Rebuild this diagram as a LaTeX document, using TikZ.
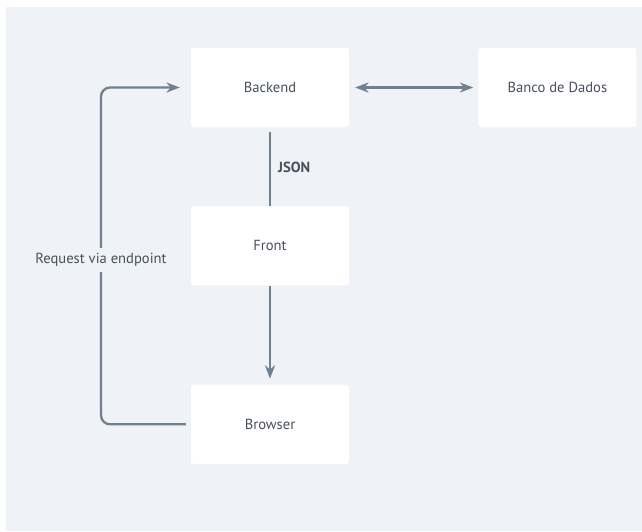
\documentclass[tikz,border=0pt]{standalone}
\usepackage{fontspec}
\setmainfont{PT Sans}
\usepackage{tikz}
\usetikzlibrary{arrows.meta,positioning,calc}
\usepackage{xcolor}
\tikzset{>=Stealth}
\definecolor{bgcolor}{RGB}{239,242,246}
\definecolor{linecolor}{RGB}{112,128,143}
\definecolor{textcolor}{RGB}{72,80,92}

\begin{document}
\begin{tikzpicture}[x=1pt,y=-1pt,
  every node/.style={font=\fontsize{14.6}{16}\selectfont,text=textcolor},
  box/.style={fill=white,rounded corners=2.5pt,minimum width=158pt,minimum height=79pt,inner sep=0pt},
  link/.style={draw=linecolor,line width=2.3pt,
    arrows={-Stealth[length=7pt,width=8pt]}}]
  \useasboundingbox (0,0) rectangle (642,531);
  \fill[bgcolor] (6,7) rectangle (642,531);
  % boxes
  \node[box] (backend) at (270,87.5) {Backend};
  \node[box,right=129pt of backend] (banco) {Banco de Dados};
  \node[box,below=79pt of backend] (front) {Front};
  \node[box,below=99pt of front] (browser) {Browser};
  \coordinate (bend) at (101,260);
  % connectors
  \draw[link,<->] ([xshift=6pt]backend.east) -- ([xshift=-5pt]banco.west);
  \draw[link,-] ([yshift=-5pt]backend.south) -- (front.north)
    node[midway,anchor=west,xshift=7pt,yshift=2pt,inner sep=0pt,font=\fontsize{14.6}{16}\selectfont\bfseries] (json) {JSON};
  \draw[link,->] (front.south) -- ([yshift=6pt]browser.north);
  \draw[link,->,rounded corners=9pt] ([xshift=-5pt]browser.west) -- (bend |- browser.west)
    -- (bend |- backend.west) -- ([xshift=-11pt]backend.west);
  \node[fill=bgcolor,inner xsep=1pt,inner ysep=5pt] (request) at (bend) {Request via endpoint};
\end{tikzpicture}
\end{document}
